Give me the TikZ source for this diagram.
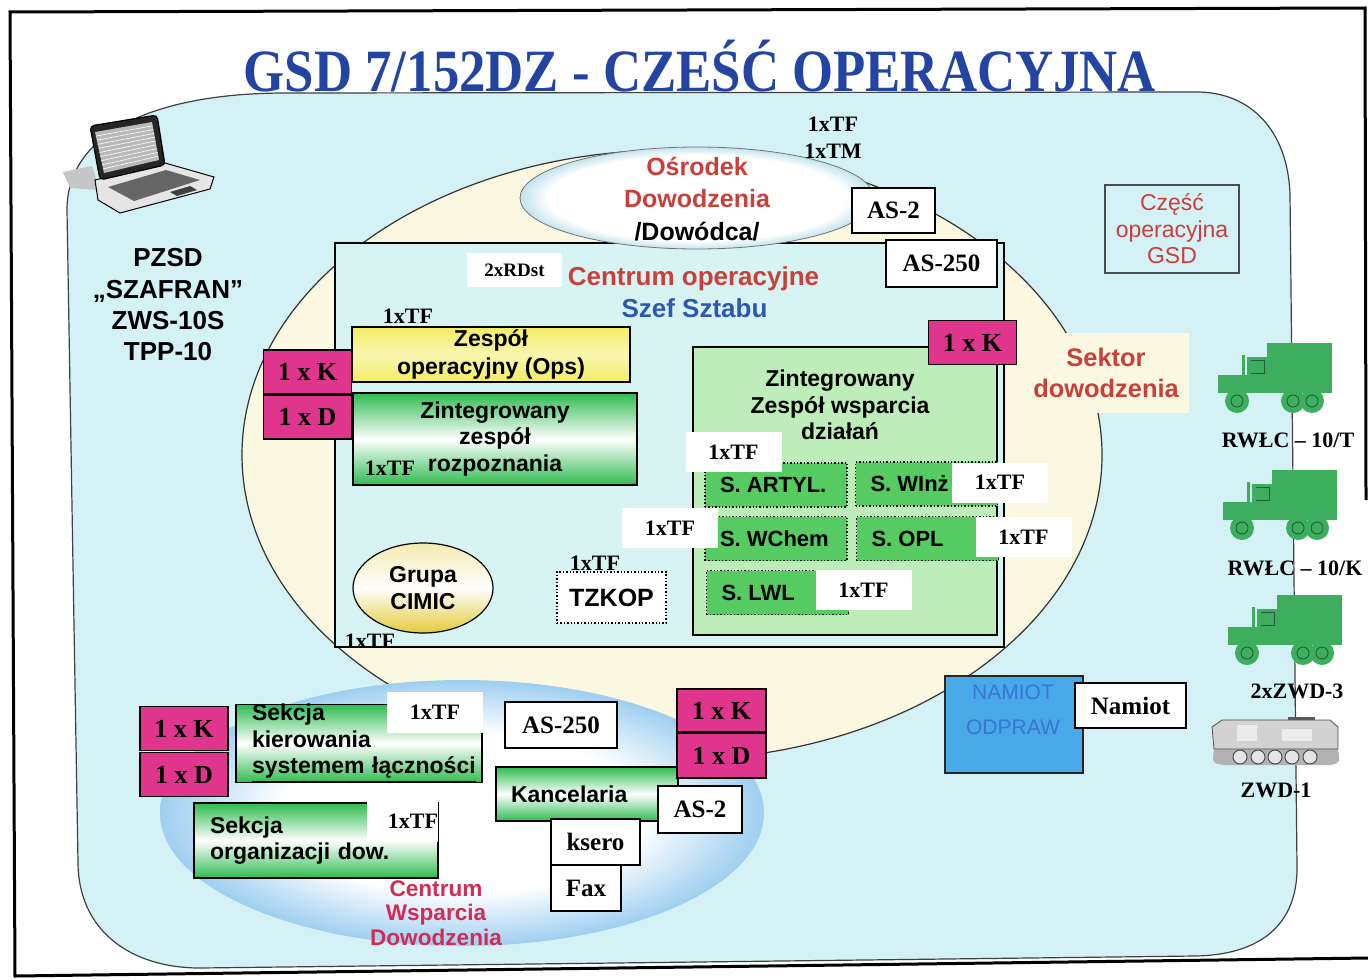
\documentclass[tikz,border=0pt]{standalone}
\usepackage{fontspec}
\setmainfont{Liberation Sans}
\newfontfamily\tnr{Liberation Serif}
\usepackage{graphicx}
\usepackage{tikz}
\usetikzlibrary{
  positioning,
  shapes.geometric,
  calc,
}
\definecolor{titleblue}{HTML}{2444A2}
\definecolor{bgcyan}{HTML}{D4F1F6}
\definecolor{opcyan}{HTML}{D7F4F2}
\definecolor{sektor}{HTML}{FBF8E1}
\definecolor{odteal}{HTML}{2A9FBE}
\definecolor{cwdblue}{HTML}{3D9EE2}
\definecolor{txtred}{HTML}{C9403A}
\definecolor{txtcrimson}{HTML}{D22C55}
\definecolor{txtblue}{HTML}{2D58B0}
\definecolor{kpink}{HTML}{E0358C}
\definecolor{gbar}{HTML}{2EBB4F}
\definecolor{opsyel}{HTML}{F3EC62}
\definecolor{zwgreen}{HTML}{BDEDB9}
\definecolor{sgreen}{HTML}{55CB62}
\definecolor{cimicyel}{HTML}{E2CB3A}
\definecolor{namblue}{HTML}{47A9E8}
\definecolor{namtxt}{HTML}{3A74D4}
\definecolor{vcl}{HTML}{3CAE5E}

% white centre, coloured rim
\pgfdeclareradialshading{odshade}{\pgfpoint{0bp}{0bp}}{%
  color(0bp)=(white); color(21bp)=(white); color(35bp)=(odteal); color(50bp)=(odteal)}
\pgfdeclareradialshading{cwdshade}{\pgfpoint{0bp}{0bp}}{%
  color(0bp)=(white); color(15bp)=(white); color(35bp)=(cwdblue); color(50bp)=(cwdblue)}

\tikzset{
  truck/.pic={
    \fill[vcl] (49,0) rectangle (114,44);
    \fill[vcl] (29,14) rectangle (49,45);
    \fill[vcl] (0,32) rectangle (32,46);
    \fill[vcl] (0,44) rectangle (114,50);
    \draw[vcl!55!black, line width=.5pt] (33,17) -- (46,17) -- (46,30) -- (33,30);
    \draw[vcl, line width=1.5pt] (25,12) -- (25,40);
    \foreach \wx in {19,75,94} {
      \fill[vcl] (\wx,58) circle (12);
      \draw[vcl!50!black, line width=.4pt] (\wx,58) circle (6);
    }
  },
  tracked/.pic={
    \fill[gray!60] (2,34) .. controls (0,48) .. (12,50) -- (118,50)
      .. controls (128,48) .. (126,34) -- cycle;
    \draw[gray!60!black, fill=gray!35, line width=.4pt]
      (0,12) -- (10,5) -- (118,5) -- (126,12) -- (126,34) -- (2,34) -- cycle;
    \fill[white!85!gray] (25,10) rectangle (45,26);
    \fill[white!85!gray] (70,14) rectangle (100,26);
    \fill[gray!70!black] (76,2) rectangle (103,5);
    \foreach \wx in {28,46,63,80,98}
      \draw[gray!60!black, fill=gray!20, line width=.5pt] (\wx,42) circle (7);
  },
}

\begin{document}
\begin{tikzpicture}[x=0.5pt, y=-0.5pt,
    kbox/.style={draw, line width=.6pt, fill=kpink, minimum width=44pt,
                 minimum height=22pt, inner sep=0pt,
                 font=\tnr\bfseries\fontsize{13pt}{15pt}\selectfont},
    wbox/.style={draw, line width=.6pt, fill=white, inner sep=0pt,
                 font=\tnr\bfseries\fontsize{12.5pt}{15pt}\selectfont},
    tf/.style={inner sep=0pt, font=\tnr\bfseries\fontsize{11pt}{13pt}\selectfont},
    tfbox/.style={tf, fill=white, minimum width=48pt, minimum height=20pt},
    gbox/.style={draw, line width=.6pt, top color=gbar, bottom color=gbar,
                 middle color=white, inner sep=0pt,
                 font=\bfseries\fontsize{11.5pt}{13.25pt}\selectfont},
    sbox/.style={draw, densely dotted, line width=.7pt, fill=sgreen,
                 minimum width=71pt, minimum height=22pt, inner sep=0pt,
                 font=\bfseries\fontsize{11pt}{13pt}\selectfont},
    lbl/.style={inner sep=0pt, align=center},
    bigfont/.style={font=\bfseries\fontsize{12.5pt}{15pt}\selectfont},
  ]
  \useasboundingbox (0,0) rectangle (1368,979);

  % sheet frame
  \draw[line width=1.5pt] (1366,500) -- (1365,8) -- (10,12) -- (15,976) -- (1368,958);

  % background of the whole command post
  \draw[fill=bgcyan, draw=black!75, line width=.6pt]
    (286,93) -- (1197,92) .. controls (1250,92) and (1288,130) .. (1290,195)
    -- (1297,868) .. controls (1297,925) and (1260,955) .. (1195,956)
    -- (200,968) .. controls (130,968) and (78,930) .. (78,862)
    -- (67,210) .. controls (67,130) and (160,93) .. (286,93) -- cycle;

  \node[anchor=base, inner sep=0pt, text=titleblue,
        font=\tnr\bfseries\fontsize{30pt}{32pt}\selectfont] (title) at (700,91)
    {\scalebox{0.88}[1]{GSD 7/152DZ - CZEŚĆ OPERACYJNA}};

  % laptop
  \fill[gray!45] (63,172) -- (92,166) -- (100,190) -- (70,188) -- cycle;
  \draw[fill=gray!20, line width=.5pt] (95,180) -- (165,163) -- (214,177)
    -- (210,189) -- (120,213) -- (98,200) -- cycle;
  \fill[black!60] (108,187) -- (166,170) -- (200,180) -- (134,201) -- cycle;
  \fill[black!75] (170,192) -- (190,186) -- (197,190) -- (177,196) -- cycle;
  \draw[fill=black!85, line width=.6pt, rounded corners=2pt]
    (90,126) -- (157,115) -- (165,165) -- (100,180) -- cycle;
  \fill[gray!55] (95,132) -- (152,122) -- (159,160) -- (104,173) -- cycle;
  \foreach \t in {0.1,0.2,...,0.9}
    \draw[white, line width=.3pt] ($(95,132)!\t!(104,173)$) -- ($(152,122)!\t!(159,160)$);

  \node[lbl, anchor=base, font=\bfseries\fontsize{13pt}{15pt}\selectfont] (pz1) at (168,266) {PZSD};
  \node[lbl, anchor=base, font=\bfseries\fontsize{13pt}{15pt}\selectfont] (pz2) at (168,298) {„SZAFRAN”};
  \node[lbl, anchor=base, font=\bfseries\fontsize{13pt}{15pt}\selectfont] (pz3) at (168,329) {ZWS-10S};
  \node[lbl, anchor=base, font=\bfseries\fontsize{13pt}{15pt}\selectfont] (pz4) at (168,360) {TPP-10};

  % command sector
  \node[ellipse, draw=black!80, line width=.6pt, fill=sektor, minimum width=430pt,
        minimum height=305pt, inner sep=0pt] (sek) at (672,455) {};
  \node[lbl, fill=sektor, minimum width=83pt, minimum height=40pt, text=txtred,
        font=\bfseries\fontsize{12.7pt}{15.5pt}\selectfont] (sektxt) at (1106,373)
    {Sektor\\dowodzenia};

  % operations centre
  \node[draw, line width=.6pt, fill=opcyan, minimum width=334.5pt,
        minimum height=202pt, inner sep=0pt] (co) at (669.5,445) {};

  \node[ellipse, shade, shading=odshade, draw=black!55, line width=.4pt,
        minimum width=177pt, minimum height=51pt, inner sep=0pt] (od) at (697,198) {};
  \node[lbl, anchor=base, bigfont, text=txtred] (od1) at (697,175) {Ośrodek};
  \node[lbl, anchor=base, bigfont, text=txtred] (od2) at (697,207) {Dowodzenia};
  \node[lbl, anchor=base, bigfont] (od3) at (697,240) {/Dowódca/};

  \node[tf, anchor=base] (tftop1) at (833,131) {1xTF};
  \node[tf, anchor=base] (tftop2) at (833,158) {1xTM};
  \node[wbox, minimum width=41.5pt, minimum height=22.5pt] (as2) at (893.5,210.5) {AS-2};
  \node[wbox, minimum width=55.5pt, minimum height=23.5pt] (as250) at (941.5,263.5) {AS-250};

  \node[tfbox, minimum width=47.5pt, minimum height=17pt,
        font=\tnr\bfseries\fontsize{9.5pt}{11pt}\selectfont] (rdst) at (514.5,270) {2xRDst};
  \node[lbl, anchor=base, text=txtred, font=\bfseries\fontsize{13pt}{15pt}\selectfont]
    (cotxt) at (693.5,285) {Centrum operacyjne};
  \node[lbl, anchor=base, text=txtblue, font=\bfseries\fontsize{13pt}{15pt}\selectfont]
    (szef) at (694.5,317) {Szef Sztabu};

  % left column
  \node[tf, anchor=base] (tfops) at (408,323) {1xTF};
  \node[draw, line width=.6pt, top color=opsyel, bottom color=opsyel,
        middle color=opsyel!50!white, minimum width=139pt, minimum height=27.5pt,
        inner sep=0pt, align=center, font=\bfseries\fontsize{11.5pt}{14pt}\selectfont]
    (ops) at (491,354.5) {Zespół\\operacyjny (Ops)};
  \node[kbox] (k1) at (307.5,372) {1 x K};
  \node[kbox] (d1) at (307.5,417) {1 x D};
  \node[gbox, minimum width=142pt, minimum height=46pt, align=center]
    (rozp) at (495,439) {Zintegrowany\\zespół\\rozpoznania};
  \node[tf, anchor=base] (tfrozp) at (390,475) {1xTF};

  \node[ellipse, draw, line width=.6pt, top color=cimicyel!40!white,
        bottom color=cimicyel, middle color=white, minimum width=70pt,
        minimum height=45pt, inner sep=0pt, align=center,
        font=\bfseries\fontsize{11.5pt}{13.5pt}\selectfont] (cimic) at (423,588)
    {Grupa\\CIMIC};
  \node[tf, anchor=base] (tftz) at (595,570) {1xTF};
  \node[draw, densely dotted, line width=.7pt, fill=white, minimum width=54.5pt,
        minimum height=25.5pt, inner sep=0pt,
        font=\bfseries\fontsize{12.5pt}{14pt}\selectfont] (tzkop) at (611.5,597.5) {TZKOP};
  \node[tf, anchor=base] (tfco) at (370,648) {1xTF};

  % support sections
  \node[draw, line width=.6pt, fill=zwgreen, minimum width=152pt,
        minimum height=144pt, inner sep=0pt] (zw) at (845,491) {};
  \node[lbl, font=\bfseries\fontsize{11.5pt}{13.25pt}\selectfont] (zwtxt) at (840,405)
    {Zintegrowany\\Zespół wsparcia\\działań};
  \node[kbox] (k2) at (972.5,342.5) {1 x K};

  \node[sbox] (artyl) at (776,485)   {\makebox[56pt][l]{S. ARTYL.}};
  \node[sbox] (winz)  at (926.5,484) {\makebox[56pt][l]{S. WInż}};
  \node[sbox] (wchem) at (776,538.5) {\makebox[56pt][l]{S. WChem}};
  \node[sbox] (opl)   at (927.5,538.5) {\makebox[56pt][l]{S. OPL}};
  \node[sbox] (lwl)   at (777.5,592.5) {\makebox[56pt][l]{S. LWL}};

  \node[tfbox] (tf1) at (733.5,452) {1xTF};
  \node[tfbox] (tf2) at (1000,482.5) {1xTF};
  \node[tfbox] (tf3) at (670,528) {1xTF};
  \node[tfbox] (tf4) at (1023.5,537) {1xTF};
  \node[tfbox] (tf5) at (863.5,590) {1xTF};

  % part label
  \node[draw=black!70, line width=.6pt, fill=bgcyan, minimum width=67pt,
        minimum height=44pt, inner sep=0pt, align=center, text=txtred,
        font=\fontsize{11.5pt}{13.25pt}\selectfont] (czesc) at (1172,229)
    {Część\\operacyjna\\GSD};

  % vehicles on the edge
  \pic at (1218,343) {truck};
  \pic at (1223,470) {truck};
  \pic at (1228,595) {truck};
  \pic at (1212,715) {tracked};
  \node[tf, anchor=base] (v1) at (1288,447) {RWŁC – 10/T};
  \node[tf, anchor=base] (v2) at (1295,575) {RWŁC – 10/K};
  \node[tf, anchor=base] (v3) at (1297,698) {2xZWD-3};
  \node[tf, anchor=base] (v4) at (1276,797) {ZWD-1};

  % command support centre
  \node[ellipse, shade, shading=cwdshade, minimum width=302pt, minimum height=133pt,
        inner sep=0pt] (cwd) at (462,813) {};
  \node[lbl, text=txtcrimson, font=\bfseries\fontsize{11.3pt}{12.25pt}\selectfont]
    (cwdtxt) at (436,913) {Centrum\\Wsparcia\\Dowodzenia};

  \node[kbox] (k3) at (184,728.5) {1 x K};
  \node[kbox] (d3) at (184,774.5) {1 x D};
  \node[gbox, minimum width=123pt, minimum height=36.5pt, text width=107pt,
        inner xsep=8pt, align=left] (skl) at (359,743.5)
    {Sekcja\\kierowania\\\underline{systemem~łączności}};
  \node[tfbox, minimum width=48pt, minimum height=20.5pt] (tf6) at (435,712.5) {1xTF};
  \node[gbox, minimum width=122pt, minimum height=37.5pt, text width=106pt,
        inner xsep=8pt, align=left] (sod) at (316,840.5)
    {Sekcja\\organizacji~dow.};
  \node[tf, fill=white, text width=35.5pt, minimum height=21pt, align=right]
    (tf7) at (402.5,821) {1xTF};

  \node[wbox, minimum width=56pt, minimum height=23pt] (as250b) at (561,725) {AS-250};
  \node[gbox, minimum width=91pt, minimum height=27pt, text width=76pt,
        inner xsep=7.5pt, align=left] (kanc) at (587,794) {Kancelaria};
  \node[wbox, minimum width=44.5pt, minimum height=23pt] (ksero) at (595.5,842) {ksero};
  \node[wbox, minimum width=35pt, minimum height=23pt] (fax) at (586,888) {Fax};
  \node[wbox, minimum width=42pt, minimum height=23.5pt] (as2b) at (700,809.5) {AS-2};
  \node[kbox, minimum width=44.5pt, minimum height=21.5pt] (k4) at (721.5,710.5) {1 x K};
  \node[kbox, minimum width=44.5pt, minimum height=22.5pt] (d4) at (721.5,755.5) {1 x D};

  % briefing tent
  \node[draw=black!85, line width=1.2pt, fill=namblue, minimum width=69pt,
        minimum height=48.5pt, inner sep=0pt] (namiot) at (1014,724.5) {};
  \node[lbl, text=namtxt, font=\fontsize{10.5pt}{17.5pt}\selectfont] (namtxt) at (1013,710)
    {NAMIOT\\ODPRAW};
  \node[wbox, minimum width=55.5pt, minimum height=22.5pt] (namiot2) at (1130.5,705.5) {Namiot};
\end{tikzpicture}
\end{document}
